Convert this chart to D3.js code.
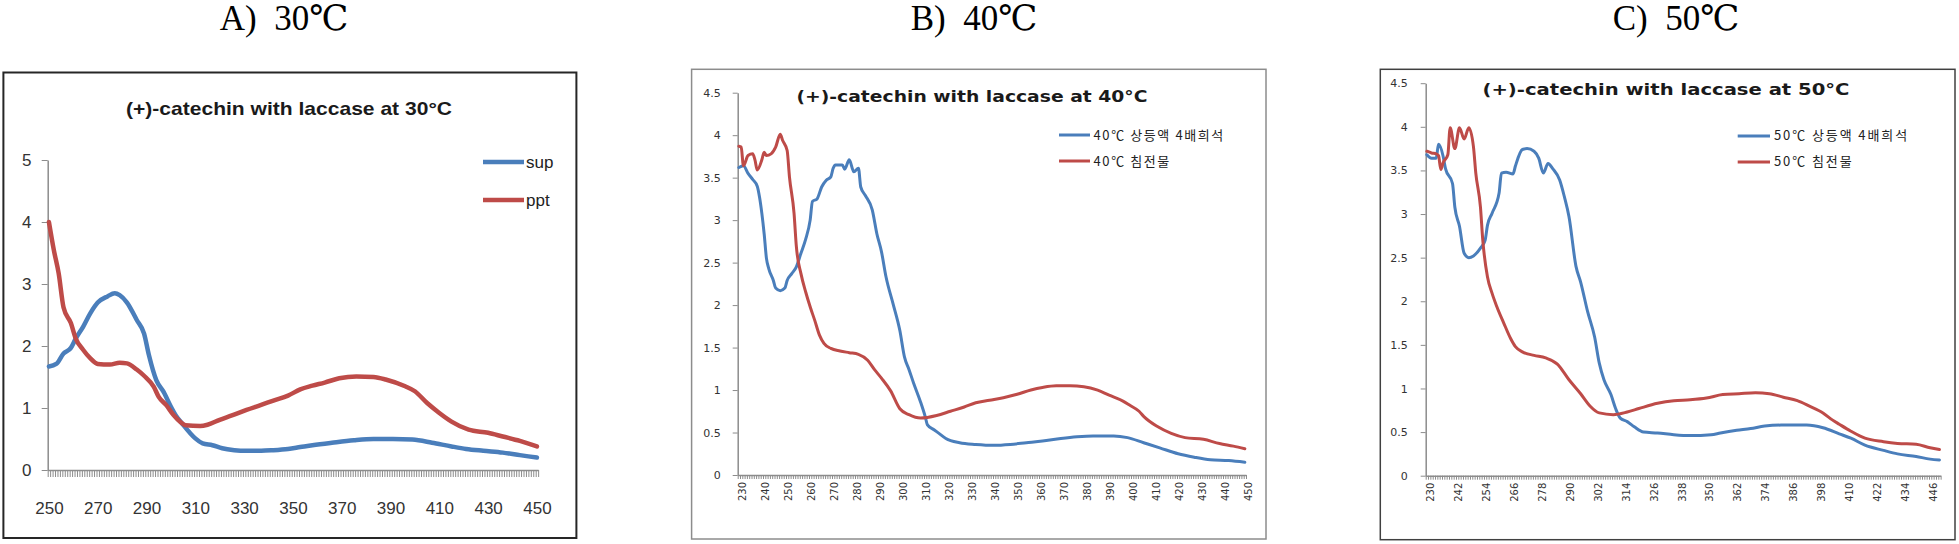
<!DOCTYPE html>
<html><head><meta charset="utf-8">
<script src="https://cdn.jsdelivr.net/npm/d3@7"></script>
<style>
html,body{margin:0;padding:0;background:#fff;}
svg{display:block;}
</style></head>
<body>
<svg id="chart" width="1959" height="544"></svg>
<script>
// ---------------- DATA ----------------
const panelTitles = ["A)\u00A0\u00A030\u2103", "B)\u00A0\u00A040\u2103", "C)\u00A0\u00A050\u2103"];
const chartTitles = ["(+)-catechin with laccase at 30\u00B0C", "(+)-catechin with  laccase at 40\u00B0C", "(+)-catechin with  laccase at 50\u00B0C"];
const seriesNamesA = ["sup", "ppt"];
const seriesNamesB = ["40\u2103 상등액 4배희석", "40\u2103 침전물"];
const seriesNamesC = ["50\u2103 상등액 4배희석", "50\u2103 침전물"];

const yTicksA = [0, 1, 2, 3, 4, 5];
const yTicksBC = [0, 0.5, 1, 1.5, 2, 2.5, 3, 3.5, 4, 4.5];
const xLabelsA = [250, 270, 290, 310, 330, 350, 370, 390, 410, 430, 450];
const xLabelsB = [230, 240, 250, 260, 270, 280, 290, 300, 310, 320, 330, 340, 350, 360, 370, 380, 390, 400, 410, 420, 430, 440, 450];
const xLabelsC = [230, 242, 254, 266, 278, 290, 302, 314, 326, 338, 350, 362, 374, 386, 398, 410, 422, 434, 446];

// [wavelength nm, absorbance]
const supA = [[250,1.67],[253,1.71],[256,1.88],[259,1.97],[261,2.12],[264,2.31],[267,2.53],[270,2.70],[274,2.80],[277,2.85],[279,2.82],[282,2.70],[286,2.42],[289,2.20],[291,1.85],[294,1.45],[297,1.26],[300,1.02],[302,0.88],[305,0.73],[308,0.59],[310,0.51],[313,0.43],[317,0.40],[321,0.35],[326,0.32],[331,0.31],[337,0.31],[342,0.32],[348,0.34],[353,0.37],[358,0.40],[366,0.44],[375,0.48],[383,0.50],[391,0.50],[399,0.49],[407,0.44],[415,0.38],[421,0.34],[428,0.31],[436,0.28],[443,0.24],[450,0.20]];
const pptA = [[250,4.00],[252,3.55],[254,3.17],[256,2.62],[259,2.37],[261,2.12],[264,1.94],[267,1.80],[270,1.71],[275,1.70],[279,1.73],[282,1.72],[286,1.62],[289,1.52],[293,1.34],[295,1.18],[298,1.05],[301,0.89],[304,0.77],[306,0.72],[312,0.71],[315,0.73],[320,0.81],[325,0.88],[331,0.97],[337,1.05],[342,1.12],[348,1.20],[353,1.30],[358,1.36],[363,1.41],[369,1.48],[376,1.51],[383,1.50],[388,1.46],[396,1.35],[400,1.27],[405,1.08],[410,0.92],[415,0.78],[422,0.65],[430,0.60],[436,0.54],[443,0.47],[450,0.38]];

const supB = [[230,3.62],[232,3.64],[234,3.55],[236,3.48],[238,3.40],[239,3.27],[240,3.08],[241,2.84],[242,2.55],[243,2.43],[245,2.29],[246,2.20],[248,2.17],[250,2.20],[251,2.29],[253,2.37],[255,2.45],[257,2.61],[259,2.77],[261,3.00],[262,3.22],[264,3.25],[266,3.39],[268,3.47],[270,3.51],[271,3.61],[272,3.65],[275,3.65],[276,3.60],[278,3.71],[280,3.57],[282,3.61],[283,3.39],[285,3.29],[288,3.12],[290,2.84],[292,2.63],[294,2.33],[297,2.02],[300,1.70],[302,1.39],[304,1.24],[306,1.08],[309,0.86],[311,0.69],[312,0.59],[315,0.53],[317,0.49],[320,0.43],[326,0.38],[333,0.36],[341,0.35],[348,0.36],[355,0.38],[362,0.40],[370,0.43],[377,0.45],[384,0.46],[393,0.46],[399,0.44],[406,0.38],[413,0.32],[421,0.25],[428,0.21],[435,0.18],[443,0.17],[450,0.15]];
const pptB = [[230,3.87],[231,3.86],[232,3.64],[234,3.76],[236,3.78],[237,3.71],[238,3.59],[240,3.71],[241,3.80],[242,3.76],[244,3.78],[246,3.86],[248,4.01],[249,3.94],[251,3.82],[252,3.51],[254,3.08],[255,2.69],[257,2.37],[259,2.16],[261,1.98],[263,1.82],[265,1.65],[267,1.55],[270,1.49],[274,1.46],[278,1.44],[282,1.42],[286,1.35],[289,1.24],[292,1.14],[296,0.99],[300,0.78],[304,0.71],[309,0.67],[316,0.70],[322,0.75],[328,0.80],[333,0.85],[339,0.88],[345,0.91],[351,0.95],[357,1.00],[362,1.03],[368,1.05],[374,1.05],[380,1.04],[386,1.00],[391,0.94],[397,0.87],[400,0.82],[404,0.75],[406,0.69],[412,0.57],[418,0.49],[424,0.44],[432,0.42],[439,0.37],[445,0.34],[450,0.31]];

const supC = [[230,3.68],[232,3.64],[234,3.64],[235,3.80],[237,3.66],[238,3.52],[241,3.35],[242,3.08],[244,2.86],[246,2.55],[248,2.50],[250,2.52],[253,2.61],[255,2.70],[256,2.87],[258,3.01],[261,3.24],[262,3.47],[264,3.48],[267,3.46],[268,3.55],[271,3.74],[273,3.75],[276,3.72],[278,3.64],[280,3.47],[282,3.58],[284,3.52],[287,3.39],[289,3.20],[291,2.97],[294,2.40],[296,2.22],[299,1.88],[302,1.59],[304,1.29],[306,1.10],[309,0.93],[311,0.77],[313,0.66],[316,0.62],[319,0.56],[323,0.50],[329,0.49],[336,0.47],[343,0.46],[352,0.47],[356,0.49],[363,0.52],[369,0.54],[375,0.57],[382,0.58],[393,0.58],[400,0.55],[407,0.48],[412,0.43],[418,0.35],[426,0.29],[432,0.25],[440,0.22],[446,0.19],[450,0.18]];
const pptC = [[230,3.72],[232,3.70],[234,3.69],[235,3.67],[236,3.51],[237,3.59],[239,3.68],[240,3.99],[242,3.75],[244,3.99],[246,3.86],[248,3.99],[250,3.77],[251,3.47],[253,3.08],[254,2.70],[256,2.28],[258,2.09],[260,1.94],[263,1.75],[266,1.57],[268,1.48],[271,1.42],[276,1.38],[281,1.35],[286,1.28],[291,1.10],[296,0.94],[300,0.80],[304,0.72],[310,0.70],[316,0.73],[321,0.77],[329,0.83],[336,0.86],[343,0.87],[350,0.89],[357,0.93],[364,0.94],[371,0.95],[377,0.94],[383,0.90],[389,0.86],[394,0.80],[400,0.72],[404,0.64],[407,0.59],[412,0.51],[418,0.43],[426,0.39],[432,0.37],[440,0.36],[446,0.32],[450,0.30]];

// ---------------- DRAWING ----------------
const BLUE = "#4A7EBB", RED = "#BE4B48";
const svg = d3.select("#chart");

// big panel headings
const headX = [284, 974, 1676];
panelTitles.forEach((t, i) => {
  svg.append("text").attr("x", headX[i]).attr("y", 30)
    .attr("text-anchor", "middle")
    .style("font-family", "'Liberation Serif','DejaVu Serif',serif")
    .style("font-size", "35px").style("fill", "#000")
    .text(t);
});

function drawPanel(cfg) {
  const g = svg.append("g");
  g.append("rect").attr("x", cfg.frame[0]).attr("y", cfg.frame[1])
    .attr("width", cfg.frame[2]).attr("height", cfg.frame[3])
    .attr("fill", "#fff").attr("stroke", cfg.frameColor).attr("stroke-width", cfg.frameWidth);

  const nmMin = 230 + cfg.nmOffset, nmMax = 450;
  const n = nmMax - nmMin + 1;
  const x = d3.scaleLinear().domain([nmMin - 0.5, nmMax + 0.5]).range([cfg.x0, cfg.x0 + n * cfg.step]);
  const y = d3.scaleLinear().domain([0, cfg.yMax]).range([cfg.y0, cfg.yTop]);

  // x axis with a tick at every category boundary
  const xAxis = d3.axisBottom(x).tickValues(d3.range(nmMin - 0.5, nmMax + 1, 1))
    .tickSize(cfg.xTick).tickSizeOuter(0).tickFormat("");
  const gx = g.append("g").attr("transform", `translate(0,${cfg.y0})`).call(xAxis);
  gx.selectAll("path,line").attr("stroke", "#8C8C8C").attr("stroke-width", 1);
  gx.select("path").attr("stroke-width", 1.5);

  // x labels
  const xl = d3.axisBottom(x).tickValues(cfg.xLabels).tickSize(0).tickFormat(d3.format("d"));
  const gxl = g.append("g").attr("transform", `translate(0,${cfg.y0})`).call(xl);
  gxl.select("path").remove();
  gxl.selectAll("text").style("font-family", cfg.font).style("font-size", cfg.xFont + "px").style("fill", "#333");
  if (cfg.rotate) {
    gxl.selectAll("text").attr("transform", "rotate(-90)")
      .attr("text-anchor", "end").attr("x", -cfg.xLabelGap).attr("y", cfg.rotDx).attr("dy", "0.35em");
  } else {
    gxl.selectAll("text").attr("y", cfg.xLabelGap).attr("dy", "0.35em");
  }

  // y axis
  const yAxis = d3.axisLeft(y).tickValues(cfg.yTicks).tickSize(cfg.yTick).tickSizeOuter(0)
    .tickFormat(d3.format("~g")).tickPadding(cfg.yPad);
  const gy = g.append("g").attr("transform", `translate(${cfg.x0},0)`).call(yAxis);
  gy.selectAll("path,line").attr("stroke", "#8C8C8C");
  gy.select("path").attr("stroke-width", 1.5);
  gy.selectAll("text").style("font-family", cfg.font).style("font-size", cfg.yFont + "px").style("fill", "#333")
    .attr("text-anchor", cfg.yAnchor);

  // series lines
  const line = d3.line().x(d => x(d[0])).y(d => y(d[1])).curve(d3.curveMonotoneX);
  cfg.series.forEach((s, i) => {
    g.append("path").datum(s).attr("d", line).attr("fill", "none")
      .attr("stroke", i === 0 ? BLUE : RED).attr("stroke-width", cfg.lineW)
      .attr("stroke-linejoin", "round").attr("stroke-linecap", "round");
  });

  // chart title
  g.append("text").attr("x", cfg.title[0]).attr("y", cfg.title[1]).attr("text-anchor", "middle")
    .attr("textLength", cfg.title[2]).attr("lengthAdjust", "spacingAndGlyphs")
    .style("font-family", cfg.titleFont).style("font-weight", "bold").style("font-size", cfg.title[3] + "px")
    .style("fill", "#1a1a1a").text(cfg.titleText);

  // legend
  cfg.names.forEach((nm, i) => {
    const ly = cfg.legend.y[i];
    g.append("line").attr("x1", cfg.legend.x1).attr("x2", cfg.legend.x2).attr("y1", ly).attr("y2", ly)
      .attr("stroke", i === 0 ? BLUE : RED).attr("stroke-width", cfg.lineW);
    g.append("text").attr("x", cfg.legend.tx).attr("y", ly).attr("dy", "0.35em")
      .style("font-family", cfg.legend.font).style("font-size", cfg.legend.size + "px").style("fill", "#222")
      .style("letter-spacing", (cfg.legend.ls || 0) + "px")
      .text(nm);
  });
}

drawPanel({
  frame: [3.4, 72.5, 573, 465.5], frameColor: "#262626", frameWidth: 2,
  nmOffset: 20, x0: 47.7, step: 2.44, y0: 470, yTop: 160, yMax: 5,
  yTicks: yTicksA, xLabels: xLabelsA, rotate: false, xLabelGap: 38, xTick: 7, yTick: 6, yPad: 15, yAnchor: "middle",
  font: "'Liberation Sans',Arial,sans-serif", xFont: 17, yFont: 17,
  series: [supA, pptA], lineW: 4.5,
  title: [289, 115, 326, 19], titleText: chartTitles[0], titleFont: "'Liberation Sans',Arial,sans-serif",
  names: seriesNamesA,
  legend: { x1: 483, x2: 524, tx: 526, y: [162, 200], font: "'Liberation Sans',Arial,sans-serif", size: 17 }
});

drawPanel({
  frame: [691.6, 69.3, 574.4, 469.7], frameColor: "#8C8C8C", frameWidth: 1.5,
  nmOffset: 0, x0: 737.7, step: 2.30, y0: 475, yTop: 92.7, yMax: 4.5,
  yTicks: yTicksBC, xLabels: xLabelsB, rotate: true, xLabelGap: 7, rotDx: 3, xTick: 4, yTick: 5, yPad: 12, yAnchor: "end",
  font: "'DejaVu Sans',Verdana,sans-serif", xFont: 10, yFont: 11,
  series: [supB, pptB], lineW: 3,
  title: [972, 102, 351, 16], titleText: chartTitles[1], titleFont: "'DejaVu Sans',Verdana,sans-serif",
  names: seriesNamesB,
  legend: { x1: 1059, x2: 1090, tx: 1093.5, y: [135, 161], font: "'Noto Sans CJK KR','DejaVu Sans',sans-serif", size: 13, ls: 1.6 }
});

drawPanel({
  frame: [1380.3, 69.3, 574.7, 470.4], frameColor: "#404040", frameWidth: 1.5,
  nmOffset: 0, x0: 1425.7, step: 2.33, y0: 475.7, yTop: 83.2, yMax: 4.5,
  yTicks: yTicksBC, xLabels: xLabelsC, rotate: true, xLabelGap: 7, rotDx: 3, xTick: 4, yTick: 5, yPad: 13, yAnchor: "end",
  font: "'DejaVu Sans',Verdana,sans-serif", xFont: 10, yFont: 11,
  series: [supC, pptC], lineW: 3,
  title: [1666, 95, 367, 16], titleText: chartTitles[2], titleFont: "'DejaVu Sans',Verdana,sans-serif",
  names: seriesNamesC,
  legend: { x1: 1737.7, x2: 1770, tx: 1774, y: [135.9, 161.9], font: "'Noto Sans CJK KR','DejaVu Sans',sans-serif", size: 13, ls: 1.9 }
});
</script>
</body></html>
